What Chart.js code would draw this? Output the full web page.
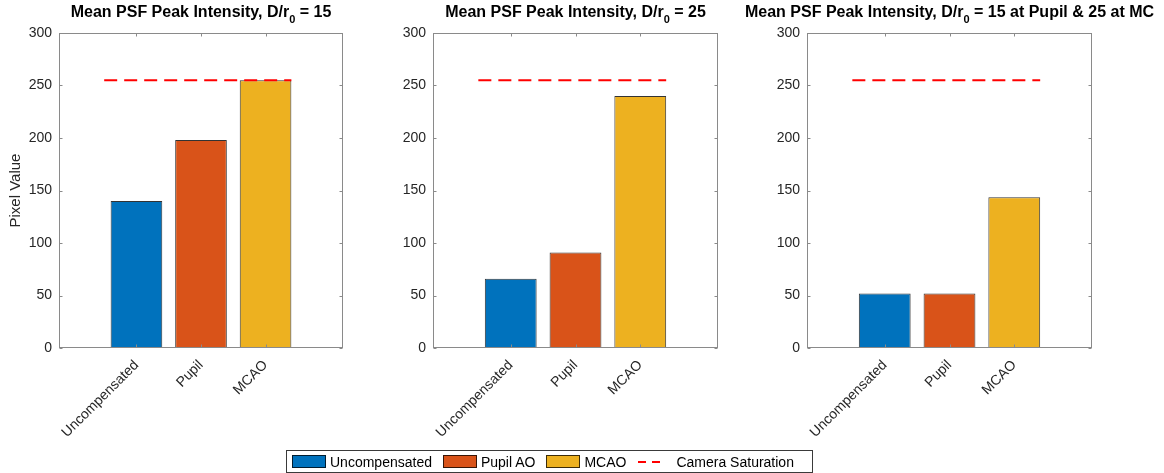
<!DOCTYPE html>
<html>
<head>
<meta charset="utf-8">
<script src="https://cdn.jsdelivr.net/npm/chart.js@4.4.1/dist/chart.umd.min.js"></script>
<style>
  html, body { margin: 0; padding: 0; background: #fff; }
  body { position: relative; width: 1164px; height: 473px; overflow: hidden;
         font-family: "Liberation Sans", Arial, Helvetica, sans-serif; color: #262626; }
  canvas { position: absolute; left: 0; top: 0; }
  .ttl { position: absolute; top: 2px; font-weight: bold; font-size: 16px; line-height: 20px;
         white-space: nowrap; transform: translateX(-50%); color: #000; }
  .ttl sub { font-size: 11px; vertical-align: -6px; line-height: 0; }
  #legend { position: absolute; left: 286px; top: 450px; width: 527px; height: 23px; box-sizing: border-box;
            border: 1px solid #3a3a3a; display: flex; align-items: center; padding-left: 5px;
            font-size: 14px; color: #000; white-space: nowrap; }
  .sw { width: 34px; height: 13px; box-sizing: border-box; border: 1px solid rgba(0,0,0,0.75); margin-right: 4px; }
  .dash { width: 22px; height: 2px; margin: 0 16px 0 1px;
          background: repeating-linear-gradient(to right, #ff0000 0 8px, transparent 8px 14px); }
  .lab { margin-right: 11px; }
</style>
</head>
<body>
<canvas id="c0" width="1164" height="473"></canvas>
<canvas id="c1" width="1164" height="473"></canvas>
<canvas id="c2" width="1164" height="473"></canvas>
<div id="titles"></div>
<div id="legend"></div>

<script>
/* PSF peak intensity — three bar panels with camera saturation line */

const categories = ['Uncompensated', 'Pupil', 'MCAO'];
const catPositions = [1, 2, 3];
const legendLabels = ['Uncompensated', 'Pupil AO', 'MCAO', 'Camera Saturation'];
const peakD15 = [140, 198, 255];
const peakD25 = [66, 91, 240];
const peakMixed = [52, 52, 143.5];
const saturation = 255;
const saturationSpan = [0.5, 3.4];
const yTicks = [0, 50, 100, 150, 200, 250, 300];
const titles = [
  'Mean PSF Peak Intensity, D/r<sub>0</sub> = 15',
  'Mean PSF Peak Intensity, D/r<sub>0</sub> = 25',
  'Mean PSF Peak Intensity, D/r<sub>0</sub> = 15 at Pupil &amp; 25 at MC',
];

const barColors = ['#0072BD', '#D95319', '#EDB120'];
const axisColor = '#8a8a8a';
const textColor = '#262626';
const fontFamily = '"Liberation Sans", Arial, Helvetica, sans-serif';

// panel placement (plot box edges)
const axLeft = [59, 433, 807];
const axRight = [343, 718, 1092];
const axTop = 33, axBottom = 348;
const yWidth = 59, xHeight = 473 - axBottom, tickLen = 3;

const boxPlugin = {
  id: 'matlabBox',
  afterDatasetsDraw(chart) {
    const { ctx, chartArea: a, scales: { x, y } } = chart;
    const l = Math.round(a.left) + 0.5, r = Math.round(a.right) - 0.5;
    const t = Math.round(a.top) + 0.5, b = Math.round(a.bottom) - 0.5;
    ctx.save();
    ctx.strokeStyle = axisColor;
    ctx.lineWidth = 1;
    ctx.strokeRect(l, t, r - l, b - t);
    ctx.beginPath();
    y.ticks.forEach(tk => {
      const py = Math.round(y.getPixelForValue(tk.value)) + 0.5;
      ctx.moveTo(l, py); ctx.lineTo(l + tickLen, py);
      ctx.moveTo(r, py); ctx.lineTo(r - tickLen, py);
    });
    x.ticks.forEach(tk => {
      const px = Math.round(x.getPixelForValue(tk.value)) + 0.5;
      ctx.moveTo(px, b); ctx.lineTo(px, b - tickLen);
      ctx.moveTo(px, t); ctx.lineTo(px, t + tickLen);
    });
    ctx.stroke();
    ctx.restore();
  }
};

function makePanel(i, values, showYLabel) {
  const canvas = document.getElementById('c' + i);
  return new Chart(canvas, {
    type: 'bar',
    data: {
      datasets: [
        {
          type: 'line',
          data: saturationSpan.map(x => ({ x, y: saturation })),
          borderColor: '#ff0000',
          borderWidth: 2,
          borderDash: [13, 7],
          pointRadius: 0,
          fill: false,
          order: 1,
        },
        {
          type: 'bar',
          data: catPositions.map((x, k) => ({ x, y: values[k] })),
          backgroundColor: barColors,
          borderColor: 'rgba(0,0,0,0.8)',
          borderWidth: 1,
          borderSkipped: false,
          barPercentage: 0.8,
          categoryPercentage: 1,
          order: 2,
        },
      ],
    },
    options: {
      responsive: false,
      animation: false,
      devicePixelRatio: 1,
      layout: {
        padding: { left: axLeft[i] - yWidth, right: 1164 - axRight[i], top: axTop, bottom: 0 },
      },
      plugins: { legend: { display: false }, tooltip: { enabled: false } },
      scales: {
        x: {
          type: 'linear',
          offset: false,
          min: -0.2,
          max: 4.2,
          afterBuildTicks: s => { s.ticks = catPositions.map(v => ({ value: v })); },
          afterFit: s => { s.height = xHeight; },
          grid: { display: false, drawTicks: false, offset: false },
          border: { display: false },
          ticks: {
            autoSkip: false, minRotation: 45, maxRotation: 45, padding: 9,
            color: textColor, font: { size: 14, family: fontFamily },
            callback: (v, idx) => categories[idx],
          },
        },
        y: {
          min: 0,
          max: 300,
          afterBuildTicks: s => { s.ticks = yTicks.map(v => ({ value: v })); },
          afterFit: s => { s.width = yWidth; },
          grid: { display: false, drawTicks: false },
          border: { display: false },
          ticks: { padding: 7, color: textColor, font: { size: 14, family: fontFamily } },
          title: {
            display: showYLabel, text: 'Pixel Value', color: textColor,
            font: { size: 15, family: fontFamily }, padding: { top: 7, bottom: 0 },
          },
        },
      },
    },
    plugins: [boxPlugin],
  });
}

makePanel(0, peakD15, true);
makePanel(1, peakD25, false);
makePanel(2, peakMixed, false);

// titles centred over each plot box
const titleBox = document.getElementById('titles');
titles.forEach((t, i) => {
  const el = document.createElement('div');
  el.className = 'ttl';
  el.style.left = ((axLeft[i] + axRight[i]) / 2) + 'px';
  el.innerHTML = t;
  titleBox.appendChild(el);
});

// shared legend
const legend = document.getElementById('legend');
legendLabels.forEach((lab, i) => {
  const mark = document.createElement('div');
  if (i < barColors.length) {
    mark.className = 'sw';
    mark.style.background = barColors[i];
  } else {
    mark.className = 'dash';
  }
  const txt = document.createElement('span');
  txt.className = 'lab';
  txt.textContent = lab;
  legend.appendChild(mark);
  legend.appendChild(txt);
});
</script>
</body>
</html>
